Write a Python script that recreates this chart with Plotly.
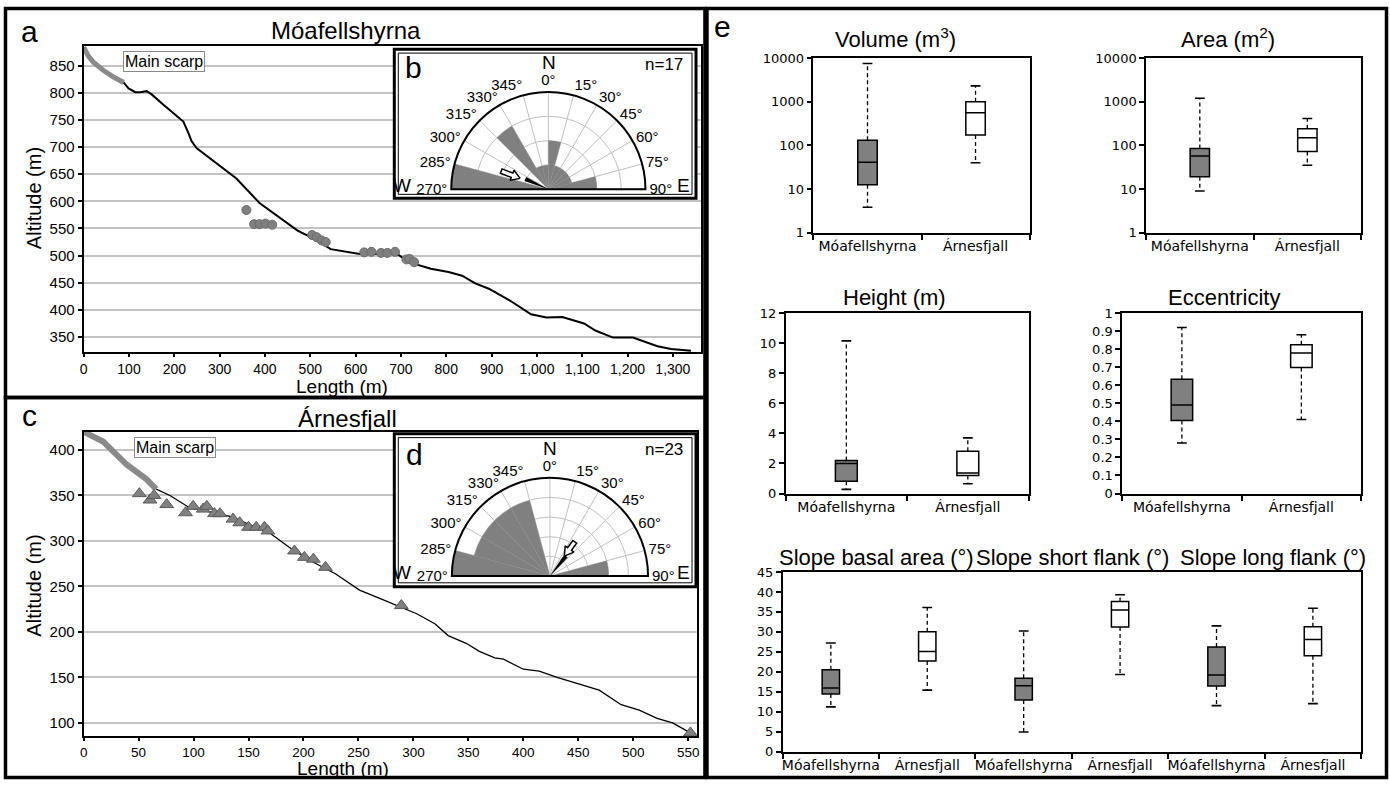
import math
import plotly.graph_objects as go

W, H = 1390, 787
def px_x(p): return p / W
def px_y(p): return 1 - p / H

# ---------------- data ----------------
# Panel a: Móafellshyrna profile (length m, altitude m)
moa_scarp_len = [0, 10, 22, 44, 66, 88]
moa_scarp_alt = [884, 868, 856, 841, 829, 819]
moa_prof_len = [88, 99, 114, 125, 139, 150, 176, 198, 220, 231, 238, 249, 300, 337, 388, 432, 472, 511,
                545, 609, 663, 687, 717, 766, 805, 835, 864, 894, 943, 987, 1021, 1056, 1104, 1129,
                1168, 1212, 1266, 1296, 1340]
moa_prof_alt = [819, 808, 801, 801, 803, 797, 778, 763, 747, 726, 711, 698, 666, 642, 597, 570, 546, 530,
                512, 503, 503, 506, 488, 476, 470, 463, 449, 439, 416, 392, 386, 387, 375, 362,
                349, 349, 333, 328, 325]
moa_pts_len = [359, 376, 388, 401, 416, 504, 514, 525, 534, 619, 635, 656, 670, 687, 712, 719, 729]
moa_pts_alt = [584, 558, 558, 559, 557, 538, 534, 528, 525, 506, 507, 505, 505, 507, 493, 494, 488]

# Panel c: Árnesfjall profile
arn_scarp_len = [0, 18, 39, 57, 66]
arn_scarp_alt = [420, 409, 384, 368, 357]
arn_prof_len = [66, 78.5, 97, 115, 133, 151, 169, 187, 205, 229, 251, 271, 283, 303, 319.5, 331.6, 348,
                360, 374, 382, 400, 414.5, 430.7, 449, 469, 489, 505.5, 521.7, 535.8, 552, 557]
arn_prof_alt = [357, 350, 336, 332, 327, 318, 309, 293, 279, 264, 246, 236, 230, 220, 209, 196, 187.5,
                178.6, 171.4, 170, 159, 157, 150, 143, 136, 120, 114, 105, 100, 89, 86]
arn_pts_len = [50.7, 60.4, 64, 75.5, 92.7, 99.6, 108.7, 112, 119, 124, 135.9, 142, 150, 157, 164.5,
               167.6, 191.8, 200.8, 209, 220, 289, 552]
arn_pts_alt = [352, 345, 350, 340, 331, 338, 335, 338, 330, 330, 324, 320, 315, 315, 315,
               311, 289, 282, 280, 271, 229, 89]

# Rose diagrams (15° bins, counts)
rose_theta = [277.5, 292.5, 307.5, 322.5, 337.5, 352.5, 7.5, 22.5, 37.5, 52.5, 67.5, 82.5]
rose_b_counts = [4, 0, 0, 3, 1, 1, 2, 1, 1, 1, 1, 2]
rose_d_counts = [5, 4, 4, 4, 4, 0, 0, 0, 0, 0, 0, 3]
rose_b_mean = 294
rose_d_mean = 39
rose_tickvals = [-90, -75, -60, -45, -30, -15, 0, 15, 30, 45, 60, 75, 90]
rose_ticktext = ["270°", "285°", "300°", "315°", "330°", "345°", "0°", "15°", "30°", "45°", "60°", "75°", "90°"]

# Panel e: box statistics [min, q1, median, q3, max]
sites = ["Móafellshyrna", "Árnesfjall"]
volume_moa = [3.8, 12.5, 41, 130, 7500]
volume_arn = [40, 172, 560, 1000, 2300]
area_moa = [9, 19, 57, 85, 1200]
area_arn = [35, 72, 150, 240, 410]
height_moa = [0.28, 0.82, 2.0, 2.2, 10.15]
height_arn = [0.65, 1.2, 1.37, 2.82, 3.7]
ecc_moa = [0.28, 0.405, 0.49, 0.633, 0.92]
ecc_arn = [0.41, 0.698, 0.778, 0.825, 0.88]
slope_basal_moa = [11.2, 14.4, 15.9, 20.5, 27.2]
slope_basal_arn = [15.4, 22.7, 25.1, 30.0, 36.1]
slope_short_moa = [4.9, 12.9, 16.5, 18.4, 30.2]
slope_short_arn = [19.3, 31.2, 35.5, 37.6, 39.3]
slope_long_moa = [11.5, 16.4, 19.2, 26.2, 31.5]
slope_long_arn = [12.0, 24.0, 28.1, 31.3, 35.9]
log_ticks = [1, 10, 100, 1000, 10000]
log_ticktext = ["1", "10", "100", "1000", "10000"]

# ---------------- styles ----------------
ARIAL = "Liberation Sans, Arial, sans-serif"
DEJA = "DejaVu Sans, Verdana, sans-serif"
GRAY = "#808080"

fig = go.Figure()

# ---- panel a ----
fig.add_trace(go.Scatter(x=moa_prof_len, y=moa_prof_alt, mode="lines",
                         line=dict(color="black", width=2), xaxis="x", yaxis="y", hoverinfo="skip"))
fig.add_trace(go.Scatter(x=moa_scarp_len, y=moa_scarp_alt, mode="lines",
                         line=dict(color="#8a8a8a", width=5), xaxis="x", yaxis="y", cliponaxis=False))
fig.add_trace(go.Scatter(x=moa_pts_len, y=moa_pts_alt, mode="markers",
                         marker=dict(symbol="circle", size=9, color=GRAY, line=dict(color="#6a6a6a", width=1)),
                         xaxis="x", yaxis="y"))

# ---- panel c ----
fig.add_trace(go.Scatter(x=arn_prof_len, y=arn_prof_alt, mode="lines",
                         line=dict(color="black", width=1.3), xaxis="x2", yaxis="y2"))
fig.add_trace(go.Scatter(x=arn_scarp_len, y=arn_scarp_alt, mode="lines",
                         line=dict(color="#8a8a8a", width=6), xaxis="x2", yaxis="y2", cliponaxis=False))
fig.add_trace(go.Scatter(x=arn_pts_len, y=arn_pts_alt, mode="markers", cliponaxis=False,
                         marker=dict(symbol="triangle-up", size=12, color=GRAY, line=dict(color="#5a5a5a", width=1)),
                         xaxis="x2", yaxis="y2"))

# ---- box plots ----
def add_box(pos, stats, color, xa, ya):
    mn, q1, md, q3, mx = stats
    fig.add_trace(go.Scatter(x=[pos, pos, None, pos, pos], y=[q3, mx, None, q1, mn], mode="lines",
                             line=dict(color="black", width=1.3, dash="4px,3px"),
                             xaxis=xa, yaxis=ya, hoverinfo="skip"))
    fig.add_trace(go.Scatter(x=[pos, pos], y=[mx, mn], mode="markers",
                             marker=dict(symbol="line-ew", size=7, line=dict(color="black", width=1.6)),
                             xaxis=xa, yaxis=ya, hoverinfo="skip"))
    fig.add_trace(go.Box(x=[pos], q1=[q1], median=[md], q3=[q3], lowerfence=[q1], upperfence=[q3],
                         width=0.18, fillcolor=color, line=dict(color="black", width=1.5),
                         whiskerwidth=0, boxpoints=False, xaxis=xa, yaxis=ya))

add_box(0, volume_moa, GRAY, "x3", "y3")
add_box(1, volume_arn, "white", "x3", "y3")
add_box(0, area_moa, GRAY, "x4", "y4")
add_box(1, area_arn, "white", "x4", "y4")
add_box(0, height_moa, GRAY, "x5", "y5")
add_box(1, height_arn, "white", "x5", "y5")
add_box(0, ecc_moa, GRAY, "x6", "y6")
add_box(1, ecc_arn, "white", "x6", "y6")
slope_sets = [slope_basal_moa, slope_basal_arn, slope_short_moa, slope_short_arn, slope_long_moa, slope_long_arn]
for i, st in enumerate(slope_sets):
    add_box(i, st, GRAY if i % 2 == 0 else "white", "x7", "y7")

# ---- inset backgrounds (cover panel grid) ----
for xa, ya in [("x8", "y8"), ("x9", "y9")]:
    fig.add_trace(go.Scatter(x=[0, 1, 1, 0, 0], y=[0, 0, 1, 1, 0], mode="lines", fill="toself",
                             fillcolor="white", line=dict(width=0, color="white"),
                             xaxis=xa, yaxis=ya, hoverinfo="skip"))

# ---- rose diagrams ----
def arrow_polar(theta_deg, r_tail, r_tip, rmax):
    pts = [(r_tip, 0), (r_tip + 0.09, 0.055), (r_tip + 0.09, 0.024), (r_tail, 0.024),
           (r_tail, -0.024), (r_tip + 0.09, -0.024), (r_tip + 0.09, -0.055), (r_tip, 0)]
    rs, ths = [], []
    for a, c in pts:
        rs.append(math.hypot(a, c) * rmax)
        ths.append(theta_deg + math.degrees(math.atan2(c, a)))
    return rs, ths

for sub, counts, mean, rmax, tail, tip in [("polar", rose_b_counts, rose_b_mean, 4, 0.52, 0.31),
                                            ("polar2", rose_d_counts, rose_d_mean, 5, 0.43, 0.25)]:
    fig.add_trace(go.Barpolar(r=counts, theta=rose_theta, width=[15] * len(rose_theta),
                              marker=dict(color=GRAY, line=dict(width=0)), subplot=sub))
    fig.add_trace(go.Barpolar(r=[0.26 * rmax], theta=[mean], width=[10],
                              marker=dict(color="black", line=dict(width=0)), subplot=sub))
    rr, tt = arrow_polar(mean - 3, tail, tip, rmax)
    fig.add_trace(go.Scatterpolar(r=rr, theta=tt, mode="lines", fill="toself", fillcolor="white",
                                  line=dict(color="black", width=1.5), subplot=sub))

# ---------------- layout ----------------
def prof_x(dom, rng, dtick, anchor, fsize=14):
    return dict(domain=dom, range=rng, dtick=dtick, tick0=0, anchor=anchor, showline=True, linecolor="black",
                linewidth=2, mirror=True, ticks="outside", ticklen=3, tickwidth=1.5, tickcolor="black",
                showgrid=False, zeroline=False, tickfont=dict(family=ARIAL, size=fsize, color="black"),
                tickformat=",")
def prof_y(dom, rng, dtick, anchor):
    return dict(domain=dom, range=rng, dtick=dtick, tick0=0, anchor=anchor, showline=True, linecolor="black",
                linewidth=2, mirror=True, ticks="outside", ticklen=4, tickwidth=1.5, tickcolor="black",
                showgrid=True, gridcolor="#c4c4c4", gridwidth=1.5, zeroline=False,
                tickfont=dict(family=ARIAL, size=15, color="black"))

box_tick_font = dict(family=DEJA, size=13, color="black")
box_cat_font = dict(family=DEJA, size=14, color="black")
def box_x(dom, ncat, anchor, labels):
    return dict(domain=dom, type="linear", range=[-0.5, ncat - 0.5], anchor=anchor,
                tickvals=list(range(ncat)), ticktext=labels, ticks="", showline=True, linecolor="black",
                linewidth=1.5, mirror=True, showgrid=False, zeroline=False, tickfont=box_cat_font,
                minor=dict(tickmode="array", tickvals=[i - 0.5 for i in range(ncat + 1)], ticks="outside",
                           ticklen=6, tickwidth=1.5, tickcolor="black", showgrid=False))
def box_y(dom, anchor, **kw):
    d = dict(domain=dom, anchor=anchor, showline=True, linecolor="black", linewidth=1.5, mirror=True,
             ticks="outside", ticklen=5, tickwidth=1.5, tickcolor="black", showgrid=False, zeroline=False,
             tickfont=box_tick_font)
    d.update(kw)
    return d

def xd(a, b): return [px_x(a), px_x(b)]
def yd(top, bot): return [px_y(bot), px_y(top)]

layout = dict(
    width=W, height=H, autosize=False, margin=dict(l=0, r=0, t=0, b=0),
    paper_bgcolor="white", plot_bgcolor="white", showlegend=False,
    xaxis=prof_x(xd(80, 700), [0, 1362], 100, "y"),
    yaxis=prof_y(yd(39.3, 351.7), [322.5, 887], 50, "x"),
    xaxis2=prof_x(xd(80, 696), [0, 558], 50, "y2", fsize=13.5),
    yaxis2=prof_y(yd(433.3, 743), [85.8, 419.7], 50, "x2"),
    xaxis3=box_x(xd(813, 1030), 2, "y3", sites),
    yaxis3=box_y(yd(52, 230), "x3", type="log", range=[0, 4], tickvals=log_ticks, ticktext=log_ticktext),
    xaxis4=box_x(xd(1147, 1363), 2, "y4", sites),
    yaxis4=box_y(yd(52, 230), "x4", type="log", range=[0, 4], tickvals=log_ticks, ticktext=log_ticktext),
    xaxis5=box_x(xd(785, 1029), 2, "y5", sites),
    yaxis5=box_y(yd(312, 496), "x5", range=[0, 12], dtick=2, tick0=0),
    xaxis6=box_x(xd(1123, 1363), 2, "y6", sites),
    yaxis6=box_y(yd(312, 496), "x6", range=[0, 1], dtick=0.1, tick0=0),
    xaxis7=box_x(xd(782, 1363), 6, "y7", sites * 3),
    yaxis7=box_y(yd(576, 759), "x7", range=[0, 45], dtick=5, tick0=0),
    xaxis8=dict(domain=xd(391, 696), range=[0, 1], visible=False, anchor="y8", fixedrange=True),
    yaxis8=dict(domain=yd(42, 196), range=[0, 1], visible=False, anchor="x8", fixedrange=True),
    xaxis9=dict(domain=xd(391, 696), range=[0, 1], visible=False, anchor="y9", fixedrange=True),
    yaxis9=dict(domain=yd(434, 592), range=[0, 1], visible=False, anchor="x9", fixedrange=True),
)

def polar_cfg(cx, cy, R, rmax):
    return dict(
        domain=dict(x=[px_x(cx - R), px_x(cx + R)], y=[px_y(cy), px_y(cy - R)]),
        sector=[0, 180], bgcolor="white",
        angularaxis=dict(rotation=90, direction="clockwise", tickmode="array", tickvals=rose_tickvals,
                         ticktext=rose_ticktext, showline=True, linecolor="black", linewidth=2,
                         gridcolor="#c0c0c0", gridwidth=1, ticks="",
                         tickfont=dict(family=ARIAL, size=15, color="black")),
        radialaxis=dict(range=[0, rmax], tickvals=list(range(1, rmax + 1)), showticklabels=False,
                        showline=False, gridcolor="#c0c0c0", gridwidth=1, ticks=""),
    )
layout["polar"] = polar_cfg(546.7, 185.7, 99, 4)
layout["polar2"] = polar_cfg(548.3, 580, 100, 5)

ann = []
def A(text, x, y, size, family=ARIAL, **kw):
    d = dict(text=text, x=px_x(x), y=px_y(y), xref="paper", yref="paper", showarrow=False,
             xanchor="center", yanchor="middle", font=dict(family=family, size=size, color="black"))
    d.update(kw)
    ann.append(d)

A("a", 26, 25, 30)
A("Móafellshyrna", 343, 24, 24)
A("c", 26, 416, 30)
A("Árnesfjall", 345, 419, 24)
A("Altitude (m)", 30, 195, 20, textangle=-90)
A("Altitude (m)", 30, 590, 20, textangle=-90)
A("Length (m)", 339, 386.5, 19, borderpad=0)
A("Length (m)", 340, 776.5, 19, borderpad=0)
A("Main scarp", 161, 56, 16, bordercolor="#8a8a8a", borderwidth=1, borderpad=1, bgcolor="white")
A("Main scarp", 172, 449, 16, bordercolor="#8a8a8a", borderwidth=1, borderpad=1, bgcolor="white")
# rose labels
A("b", 411, 62, 30)
A("n=17", 663, 59, 17)
A("N", 547, 57, 19)
A("W", 400, 182, 19)
A("E", 682, 182, 19)
A("d", 412, 456, 30)
A("n=23", 663, 451, 17)
A("N", 548, 450, 19)
A("W", 400, 576, 19)
A("E", 682, 576, 19)
# panel e
A("e", 722, 20, 30)
A("Volume (m<sup>3</sup>)", 895, 32, 22)
A("Area (m<sup>2</sup>)", 1229, 32, 22)
A("Height (m)", 894, 296, 22)
A("Eccentricity", 1225, 296, 22)
A("Slope basal area (°)", 876, 561, 22)
A("Slope short flank (°)", 1073, 561, 22)
A("Slope long flank (°)", 1275, 561, 22)
layout["annotations"] = ann

shapes = []
def R(x0, y0, x1, y1, w):
    shapes.append(dict(type="rect", xref="paper", yref="paper", x0=px_x(x0), x1=px_x(x1),
                       y0=px_y(y1), y1=px_y(y0), line=dict(color="black", width=w), layer="above"))
R(1.5, 1.5, 704, 398, 3.5)
R(1.5, 398, 704, 785.5, 3.5)
R(706, 1.5, 1388.5, 785.5, 3.5)
R(392, 43, 695, 195, 3)
R(396, 47, 691, 191, 1)
R(392, 435, 695, 591, 3)
R(396, 439, 691, 587, 1)
layout["shapes"] = shapes

fig.update_layout(**layout)
fig.write_html("out.html", config={"displayModeBar": False},
               post_script="document.body.style.margin='0';document.body.style.padding='0';"
                           "document.body.style.overflow='hidden';")
